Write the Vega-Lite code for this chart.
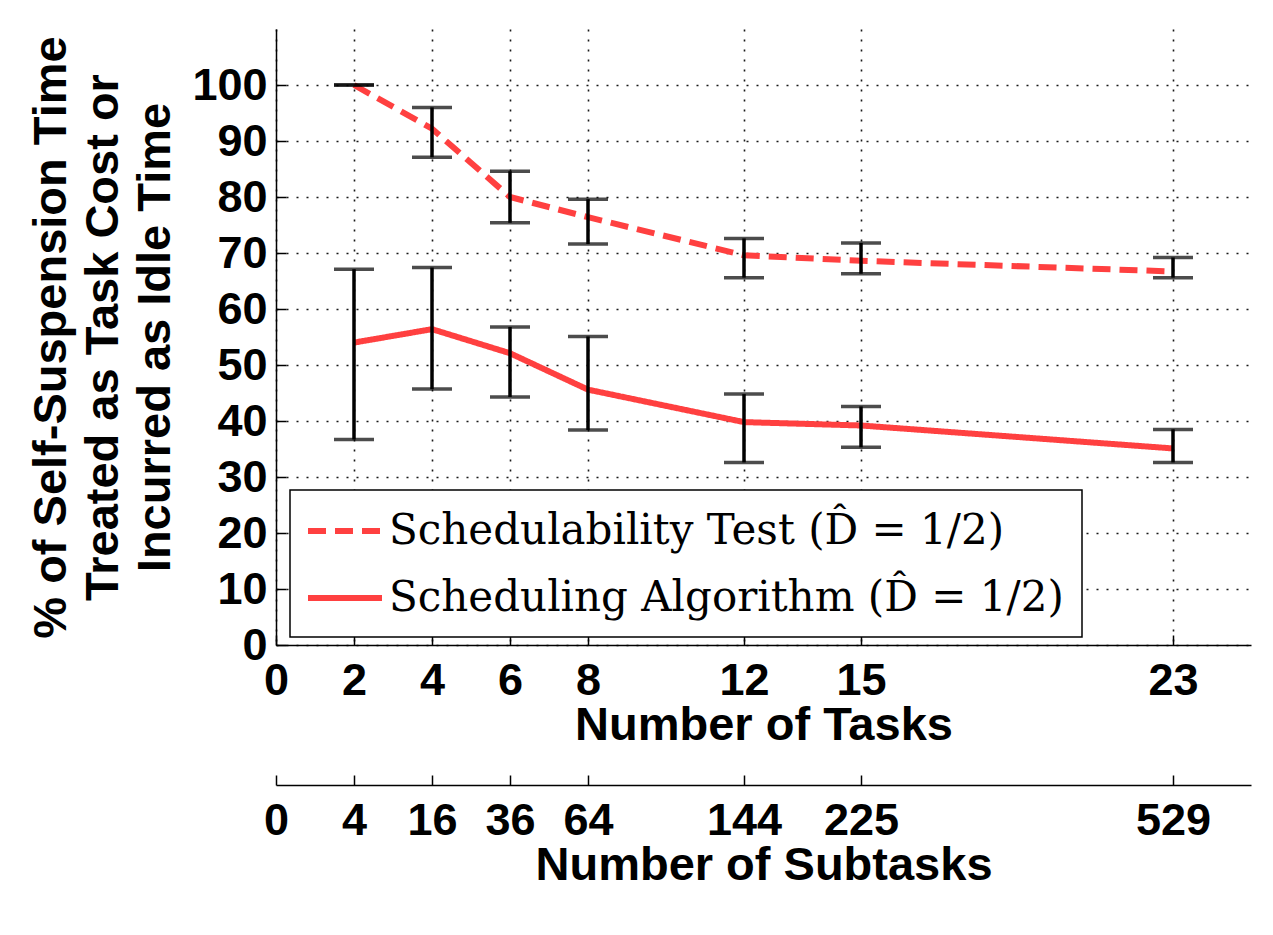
{
  "$schema": "https://vega.github.io/schema/vega-lite/v6.json",
  "width": 975,
  "height": 616,
  "autosize": {"type": "none"},
  "padding": {"left": 276, "top": 29, "right": 22, "bottom": 290},
  "background": "white",
  "config": {
    "view": {"stroke": null},
    "axis": {
      "labelFont": "Liberation Sans",
      "labelFontWeight": "bold",
      "labelFontSize": 45,
      "labelColor": "black",
      "titleFont": "Liberation Sans",
      "titleFontWeight": "bold",
      "titleFontSize": 47,
      "titleColor": "black",
      "domainColor": "black",
      "domainWidth": 1.5,
      "tickColor": "black",
      "tickWidth": 1.5,
      "tickSize": -10,
      "gridColor": "black",
      "gridDash": [2, 8],
      "gridWidth": 1.6,
      "gridOpacity": 0.9,
      "labelOverlap": false,
      "labelFlush": false
    },
    "axisX": {"labelPadding": 23, "titlePadding": -1},
    "axisY": {"labelPadding": 19, "titlePadding": 12, "titleLineHeight": 52},
    "legend": {
      "orient": "none",
      "legendX": 14,
      "legendY": 461,
      "strokeColor": "black",
      "strokeWidth": 1.5,
      "fillColor": "white",
      "padding": 18,
      "symbolType": "M-1.85,0H1.85",
      "symbolSize": 1600,
      "symbolStrokeWidth": 6,
      "symbolOffset": 14,
      "rowPadding": 23,
      "labelFont": "DejaVu Serif",
      "labelFontSize": 42,
      "labelColor": "black",
      "labelOffset": 21,
      "labelLimit": 0,
      "cornerRadius": 0
    }
  },
  "data": {
    "values": [
      {"series": "Schedulability Test (D̂ = 1/2)", "tasks": 2, "subtasks": 4, "mean": 100, "lo": 100, "hi": 100},
      {"series": "Schedulability Test (D̂ = 1/2)", "tasks": 4, "subtasks": 16, "mean": 92.2, "lo": 87.1, "hi": 96.0},
      {"series": "Schedulability Test (D̂ = 1/2)", "tasks": 6, "subtasks": 36, "mean": 80.0, "lo": 75.4, "hi": 84.6},
      {"series": "Schedulability Test (D̂ = 1/2)", "tasks": 8, "subtasks": 64, "mean": 76.4, "lo": 71.6, "hi": 79.6},
      {"series": "Schedulability Test (D̂ = 1/2)", "tasks": 12, "subtasks": 144, "mean": 69.6, "lo": 65.6, "hi": 72.6},
      {"series": "Schedulability Test (D̂ = 1/2)", "tasks": 15, "subtasks": 225, "mean": 68.6, "lo": 66.3, "hi": 71.8},
      {"series": "Schedulability Test (D̂ = 1/2)", "tasks": 23, "subtasks": 529, "mean": 66.7, "lo": 65.6, "hi": 69.2},
      {"series": "Scheduling Algorithm (D̂ = 1/2)", "tasks": 2, "subtasks": 4, "mean": 54.0, "lo": 36.7, "hi": 67.1},
      {"series": "Scheduling Algorithm (D̂ = 1/2)", "tasks": 4, "subtasks": 16, "mean": 56.4, "lo": 45.7, "hi": 67.4},
      {"series": "Scheduling Algorithm (D̂ = 1/2)", "tasks": 6, "subtasks": 36, "mean": 52.1, "lo": 44.3, "hi": 56.8},
      {"series": "Scheduling Algorithm (D̂ = 1/2)", "tasks": 8, "subtasks": 64, "mean": 45.6, "lo": 38.4, "hi": 55.1},
      {"series": "Scheduling Algorithm (D̂ = 1/2)", "tasks": 12, "subtasks": 144, "mean": 39.8, "lo": 32.6, "hi": 44.8},
      {"series": "Scheduling Algorithm (D̂ = 1/2)", "tasks": 15, "subtasks": 225, "mean": 39.2, "lo": 35.3, "hi": 42.6},
      {"series": "Scheduling Algorithm (D̂ = 1/2)", "tasks": 23, "subtasks": 529, "mean": 35.1, "lo": 32.6, "hi": 38.5}
    ]
  },
  "layer": [
    {
      "layer": [
        {
          "mark": {"type": "line", "strokeWidth": 6},
          "encoding": {
            "x": {"field": "tasks", "type": "quantitative", "scale": {"domain": [0, 25], "nice": false}, "title": "Number of Tasks",
                  "axis": {"values": [0, 2, 4, 6, 8, 12, 15, 23], "grid": true, "orient": "bottom"}},
            "y": {"field": "mean", "type": "quantitative", "scale": {"domain": [0, 110], "nice": false},
                  "title": ["% of Self-Suspension Time", "Treated as Task Cost or", "Incurred as Idle Time"],
                  "axis": {"values": [0, 10, 20, 30, 40, 50, 60, 70, 80, 90, 100], "grid": true}},
            "color": {"field": "series", "type": "nominal", "title": null,
                      "scale": {"domain": ["Schedulability Test (D̂ = 1/2)", "Scheduling Algorithm (D̂ = 1/2)"], "range": ["#ff4040", "#ff4040"]}},
            "strokeDash": {"field": "series", "type": "nominal", "title": null,
                           "scale": {"domain": ["Schedulability Test (D̂ = 1/2)", "Scheduling Algorithm (D̂ = 1/2)"], "range": [[18, 9], [1, 0]]}}
          }
        },
        {
          "mark": {"type": "rule", "color": "black", "strokeWidth": 3.5},
          "encoding": {
            "x": {"field": "tasks", "type": "quantitative", "scale": {"domain": [0, 25], "nice": false}, "title": "Number of Tasks"},
            "y": {"field": "lo", "type": "quantitative", "scale": {"domain": [0, 110], "nice": false},
                  "title": ["% of Self-Suspension Time", "Treated as Task Cost or", "Incurred as Idle Time"]},
            "y2": {"field": "hi"}
          }
        },
        {
          "mark": {"type": "tick", "orient": "horizontal", "color": "black", "size": 40, "thickness": 3.5},
          "encoding": {
            "x": {"field": "tasks", "type": "quantitative", "scale": {"domain": [0, 25], "nice": false}, "title": "Number of Tasks"},
            "y": {"field": "lo", "type": "quantitative", "scale": {"domain": [0, 110], "nice": false},
                  "title": ["% of Self-Suspension Time", "Treated as Task Cost or", "Incurred as Idle Time"]}
          }
        },
        {
          "mark": {"type": "tick", "orient": "horizontal", "color": "black", "size": 40, "thickness": 3.5},
          "encoding": {
            "x": {"field": "tasks", "type": "quantitative", "scale": {"domain": [0, 25], "nice": false}, "title": "Number of Tasks"},
            "y": {"field": "hi", "type": "quantitative", "scale": {"domain": [0, 110], "nice": false},
                  "title": ["% of Self-Suspension Time", "Treated as Task Cost or", "Incurred as Idle Time"]}
          }
        }
      ]
    },
    {
      "mark": {"type": "point", "opacity": 0},
      "encoding": {
        "x": {"field": "subtasks", "type": "quantitative",
              "scale": {"type": "pow", "exponent": 0.5, "domain": [0, 625], "nice": false, "zero": false},
              "title": "Number of Subtasks",
              "axis": {"orient": "bottom", "offset": 140, "values": [0, 4, 16, 36, 64, 144, 225, 529], "grid": false}},
        "y": {"field": "mean", "type": "quantitative", "scale": {"domain": [0, 110], "nice": false},
              "title": ["% of Self-Suspension Time", "Treated as Task Cost or", "Incurred as Idle Time"]}
      }
    }
  ],
  "resolve": {"scale": {"x": "independent"}, "axis": {"x": "independent"}}
}
